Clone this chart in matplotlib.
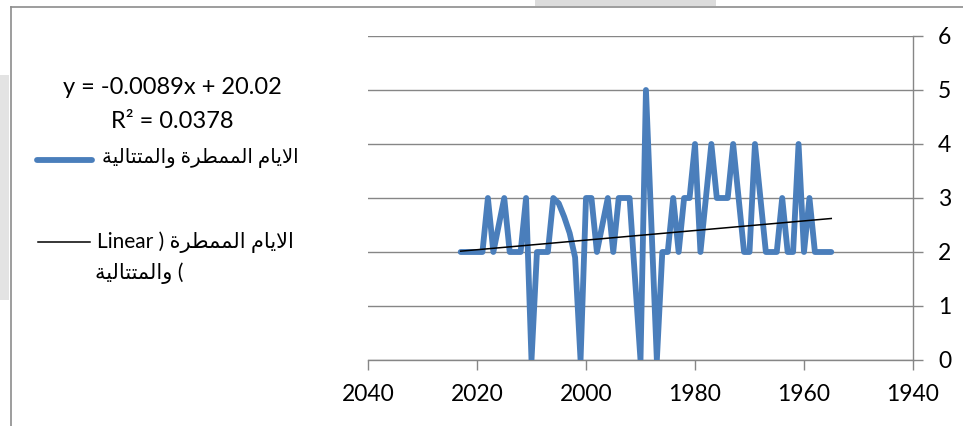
import matplotlib
matplotlib.use("Agg")
import matplotlib.pyplot as plt
from matplotlib.lines import Line2D
from matplotlib.patches import Rectangle

# yearly series (a few years on steep slopes left out)
years = [2023, 2022, 2021, 2020, 2019, 2018, 2017, 2015, 2014, 2013, 2012,
         2011, 2010, 2009, 2008, 2007, 2006, 2005, 2004, 2003, 2002, 2001,
         2000, 1999, 1998, 1996, 1995, 1994, 1993, 1992, 1990, 1989, 1987,
         1986, 1985, 1984, 1983, 1982, 1981, 1980, 1979, 1978, 1977, 1976,
         1975, 1974, 1973, 1972, 1971, 1970, 1969, 1968, 1967, 1966, 1965,
         1964, 1963, 1962, 1961, 1960, 1959, 1958, 1957, 1956, 1955]
rain_days = [2, 2, 2, 2, 2, 3, 2, 3, 2, 2, 2,
             3, 0, 2, 2, 2, 3, 2.9, 2.65, 2.35, 1.9, 0,
             3, 3, 2, 3, 2, 3, 3, 3, 0, 5, 0,
             2, 2, 3, 2, 3, 3, 4, 2, 3, 4, 3,
             3, 3, 4, 3, 2, 2, 4, 3, 2, 2, 2,
             3, 2, 2, 4, 2, 3, 2, 2, 2, 2]

# trendline as reported on the chart
slope = -0.0089
intercept = 20.02
r_squared = 0.0378

x_ticks = [2040, 2020, 2000, 1980, 1960, 1940]
y_ticks = [0, 1, 2, 3, 4, 5, 6]
series_name = "الايام الممطرة والمتتالية"

BLUE = "#4A7EBB"
GRID = "#868686"
FONT = ["Lato", "DejaVu Sans"]

# contextual forms: isolated, final, initial, medial
FORMS = {
    "ا": ("\uFE8D", "\uFE8E", None, None),
    "ل": ("\uFEDD", "\uFEDE", "\uFEDF", "\uFEE0"),
    "ي": ("\uFEF1", "\uFEF2", "\uFEF3", "\uFEF4"),
    "م": ("\uFEE1", "\uFEE2", "\uFEE3", "\uFEE4"),
    "ط": ("\uFEC1", "\uFEC2", "\uFEC3", "\uFEC4"),
    "ر": ("\uFEAD", "\uFEAE", None, None),
    "ة": ("\uFE93", "\uFE94", None, None),
    "و": ("\uFEED", "\uFEEE", None, None),
    "ت": ("\uFE95", "\uFE96", "\uFE97", "\uFE98"),
}
LAM_ALEF = ("\uFEFB", "\uFEFC")


def shape_arabic(text):
    """Join letters into presentation forms and return them in visual order."""
    out = []
    prev_joins = False
    i = 0
    n = len(text)
    while i < n:
        c = text[i]
        if c not in FORMS:
            out.append(c)
            prev_joins = False
            i += 1
            continue
        nxt = text[i + 1] if i + 1 < n else None
        if c == "ل" and nxt == "ا":
            out.append(LAM_ALEF[1] if prev_joins else LAM_ALEF[0])
            prev_joins = False
            i += 2
            continue
        iso, fin, ini, med = FORMS[c]
        joins_next = ini is not None and nxt in FORMS
        if prev_joins and joins_next:
            out.append(med)
        elif prev_joins:
            out.append(fin)
        elif joins_next:
            out.append(ini)
        else:
            out.append(iso)
        prev_joins = joins_next
        i += 1
    return "".join(reversed(out))


W, H = 963, 426
fig = plt.figure(figsize=(W / 100, H / 100), dpi=100)

# plot area in pixel terms
left, right, top, bottom = 368, 913, 36, 360
ax = fig.add_axes([left / W, 1 - bottom / H, (right - left) / W, (bottom - top) / H])

ax.plot(years, rain_days, color=BLUE, lw=4.2,
        solid_joinstyle="round", solid_capstyle="round", zorder=3)
trend_x = [years[0], years[-1]]
trend_y = [slope * x + intercept for x in trend_x]
ax.plot(trend_x, trend_y, color="black", lw=1.1, zorder=4)

ax.set_xlim(2040, 1940)
ax.set_ylim(0, 6)
ax.set_xticks(x_ticks)
ax.set_yticks(y_ticks)
ax.yaxis.tick_right()
ax.yaxis.grid(True, color=GRID, lw=1.0)
ax.set_axisbelow(True)
for side in ("left", "top"):
    ax.spines[side].set_visible(False)
for side in ("bottom", "right"):
    ax.spines[side].set_color(GRID)
    ax.spines[side].set_linewidth(1.0)
ax.tick_params(axis="x", direction="out", length=7, width=1.0, color=GRID,
               pad=10, labelsize=16.5)
ax.tick_params(axis="y", direction="out", length=7, width=1.0, color=GRID,
               pad=11, labelsize=16.5)
for lab in ax.get_xticklabels() + ax.get_yticklabels():
    lab.set_family(FONT)

# equation and legend on the left
fig.text(172 / W, 1 - 88 / H, f"y = {slope}x + {intercept}", ha="center",
         va="center", fontsize=17, family=FONT)
fig.text(172 / W, 1 - 121 / H, f"R² = {r_squared}", ha="center",
         va="center", fontsize=17, family=FONT)

fig.add_artist(Line2D([37 / W, 92 / W], [1 - 160 / H] * 2, transform=fig.transFigure,
                      color=BLUE, lw=4.2, solid_capstyle="round"))
fig.text(102 / W, 1 - 158 / H, shape_arabic(series_name), ha="left", va="center",
         fontsize=14.2, family=FONT)

name_words = series_name.split(" ")
fig.add_artist(Line2D([38 / W, 90 / W], [1 - 242 / H] * 2, transform=fig.transFigure,
                      color="black", lw=1.1))
fig.text(97 / W, 1 - 242 / H, "Linear ) " + shape_arabic(" ".join(name_words[:2])),
         ha="left", va="center", fontsize=15, family=FONT)
fig.text(95 / W, 1 - 273 / H, shape_arabic(name_words[2]) + " (",
         ha="left", va="center", fontsize=15, family=FONT)

# chart frame edges and screenshot shading
fig.add_artist(Line2D([11 / W, 1], [1 - 7 / H] * 2, transform=fig.transFigure,
                      color="#8c8c8c", lw=1.2))
fig.add_artist(Line2D([11 / W] * 2, [0, 1 - 7 / H], transform=fig.transFigure,
                      color="#8c8c8c", lw=1.2))
fig.add_artist(Rectangle((0, 1 - 300 / H), 9 / W, 225 / H, transform=fig.transFigure,
                         color="#e3e3e3", lw=0))
fig.add_artist(Rectangle((535 / W, 1 - 6 / H), 181 / W, 6 / H, transform=fig.transFigure,
                         color="#dcdcdc", lw=0))

fig.savefig("out.png", dpi=100)
